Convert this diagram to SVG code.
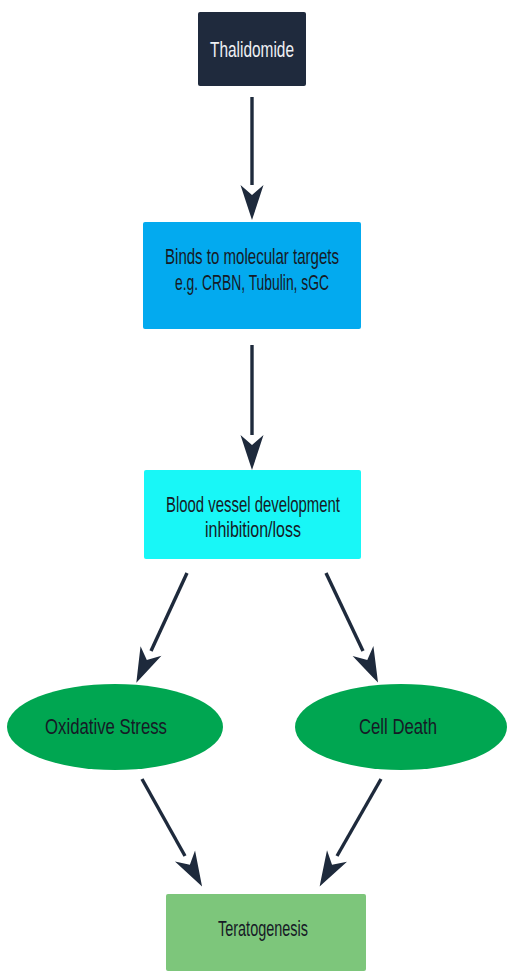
<svg xmlns="http://www.w3.org/2000/svg" width="507" height="973" viewBox="0 0 507 973">
<style>
.lbl{font-family:"Liberation Sans",Arial,sans-serif;font-size:21.5px;fill:#161a26;text-anchor:middle}
.lt{fill:#eef0f4}
.edge{stroke:#1e2a3c;stroke-width:3.4;fill:none;marker-end:url(#ah)}
</style>
<defs>
<marker id="ah" markerUnits="userSpaceOnUse" viewBox="-2 -13 40 26" refX="0" refY="0" markerWidth="40" markerHeight="26" orient="auto">
<path d="M35,0 Q20,-5 0,-11.5 L10,0 L0,11.5 Q20,5 35,0 Z" fill="#1e2a3c"/>
</marker>
</defs>
<rect width="507" height="973" fill="#ffffff"/>
<g id="edges">
<path class="edge" d="M252,97 L252,185"/>
<path class="edge" d="M252,345 L252,435"/>
<path class="edge" d="M187,573 L151,651"/>
<path class="edge" d="M326,573 L363,651"/>
<path class="edge" d="M142,779 L185,856"/>
<path class="edge" d="M381,779 L337,856"/>
</g>
<g id="thalidomide">
<rect x="198" y="12" width="108" height="74" rx="2" fill="#1f2a3d"/>
<text class="lbl lt" x="252" y="57" textLength="84" lengthAdjust="spacingAndGlyphs">Thalidomide</text>
</g>
<g id="binds">
<rect x="143" y="222" width="218" height="107" rx="2" fill="#03aaef"/>
<text class="lbl" x="252" y="264" textLength="174" lengthAdjust="spacingAndGlyphs">Binds to molecular targets</text>
<text class="lbl" x="252" y="290" textLength="154" lengthAdjust="spacingAndGlyphs">e.g. CRBN, Tubulin, sGC</text>
</g>
<g id="blood">
<rect x="144" y="470" width="217" height="89" rx="2" fill="#18f7f7"/>
<text class="lbl" x="253" y="512" textLength="174" lengthAdjust="spacingAndGlyphs">Blood vessel development</text>
<text class="lbl" x="253" y="537" textLength="96" lengthAdjust="spacingAndGlyphs">inhibition/loss</text>
</g>
<g id="oxidative">
<ellipse cx="115" cy="727" rx="108" ry="43" fill="#00a651"/>
<text class="lbl" x="106" y="734" textLength="122" lengthAdjust="spacingAndGlyphs">Oxidative Stress</text>
</g>
<g id="celldeath">
<ellipse cx="401" cy="727" rx="106" ry="43" fill="#00a651"/>
<text class="lbl" x="398" y="734" textLength="78" lengthAdjust="spacingAndGlyphs">Cell Death</text>
</g>
<g id="teratogenesis">
<rect x="166" y="894" width="200" height="77" rx="2" fill="#7dc67b"/>
<text class="lbl" x="263" y="936" textLength="90" lengthAdjust="spacingAndGlyphs">Teratogenesis</text>
</g>
</svg>
